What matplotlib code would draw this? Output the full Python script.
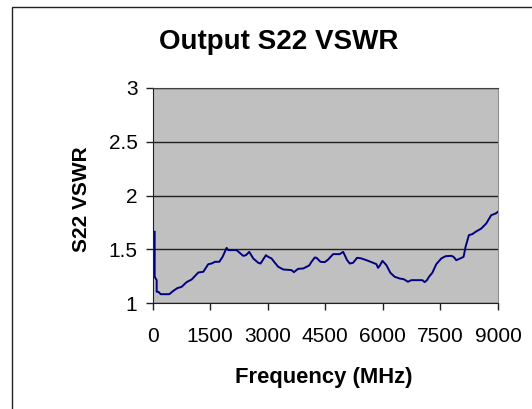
import matplotlib
matplotlib.use("Agg")
from matplotlib import pyplot as plt
from matplotlib.patches import Rectangle

# frequency points (MHz)
freq = [52, 52, 104, 104, 150, 208, 434, 538, 642, 755, 885, 1015, 1189, 1319,
        1449, 1536, 1623, 1736, 1822, 1927, 1970, 2187, 2360, 2430, 2517, 2621,
        2751, 2812, 2951, 3011, 3098, 3185, 3272, 3402, 3619, 3680, 3792, 3923,
        4079, 4140, 4226, 4270, 4374, 4487, 4574, 4704, 4877, 4964, 5007, 5068,
        5137, 5224, 5328, 5441, 5571, 5745, 5832, 5875, 5918, 5988, 6092, 6196,
        6309, 6439, 6543, 6655, 6742, 7029, 7090, 7150, 7202, 7289, 7393, 7523,
        7636, 7783, 7844, 7914, 8018, 8104, 8156, 8243, 8331, 8418, 8565, 8695,
        8825, 8938, 9000]
# S22 VSWR values
vswr = [1.664, 1.247, 1.216, 1.108, 1.108, 1.086, 1.086, 1.117, 1.142, 1.154,
        1.198, 1.222, 1.287, 1.293, 1.364, 1.370, 1.386, 1.386, 1.432, 1.515,
        1.494, 1.494, 1.441, 1.447, 1.478, 1.417, 1.377, 1.370, 1.447, 1.432,
        1.417, 1.377, 1.340, 1.315, 1.309, 1.290, 1.321, 1.324, 1.352, 1.386,
        1.426, 1.423, 1.386, 1.383, 1.407, 1.457, 1.457, 1.478, 1.447, 1.401,
        1.370, 1.377, 1.423, 1.417, 1.401, 1.377, 1.364, 1.330, 1.349, 1.395,
        1.355, 1.284, 1.247, 1.231, 1.225, 1.201, 1.216, 1.216, 1.198, 1.216,
        1.247, 1.284, 1.364, 1.417, 1.438, 1.441, 1.432, 1.401, 1.417, 1.432,
        1.525, 1.633, 1.642, 1.664, 1.694, 1.741, 1.818, 1.833, 1.849]

x_ticks = [0, 1500, 3000, 4500, 6000, 7500, 9000]
y_ticks = [1, 1.5, 2, 2.5, 3]
y_labels = ["1", "1.5", "2", "2.5", "3"]

plt.rcParams['font.family'] = ['Liberation Sans', 'DejaVu Sans']

fig = plt.figure(figsize=(5.32, 4.09), dpi=100)
ax = fig.add_axes([0.287, 0.258, 0.649, 0.528])

# outer chart frame (runs off the right and bottom edges)
fig.patches.append(Rectangle((0.023, -0.1), 1.2, 1.082, transform=fig.transFigure,
                             fill=False, edgecolor='#222222', linewidth=1.0))

ax.set_facecolor('#c0c0c0')
ax.plot(freq, vswr, color='#000080', linewidth=1.4)

ax.set_xlim(0, 9000)
ax.set_ylim(1, 3)
ax.set_xticks(x_ticks)
ax.set_xticklabels([str(t) for t in x_ticks])
ax.set_yticks(y_ticks)
ax.set_yticklabels(y_labels)
ax.yaxis.grid(True, color='#202020', linewidth=1.0)
ax.set_axisbelow(True)
ax.tick_params(axis='both', direction='out', length=5, width=1, labelsize=15,
               color='#202020', pad=6)
ax.tick_params(axis='x', pad=12)

ax.spines['left'].set_color('#202020')
ax.spines['bottom'].set_color('#202020')
ax.spines['top'].set_color('#404040')
ax.spines['right'].set_color('#909090')

fig.text(0.523, 0.897, "Output S22 VSWR", ha='center', va='center',
         fontsize=20, fontweight='bold')
fig.text(0.609, 0.076, "Frequency (MHz)", ha='center', va='center',
         fontsize=15.8, fontweight='bold')
fig.text(0.153, 0.513, "S22 VSWR", ha='center', va='center', rotation=90,
         fontsize=15, fontweight='bold')

fig.savefig("out.png", dpi=100)
